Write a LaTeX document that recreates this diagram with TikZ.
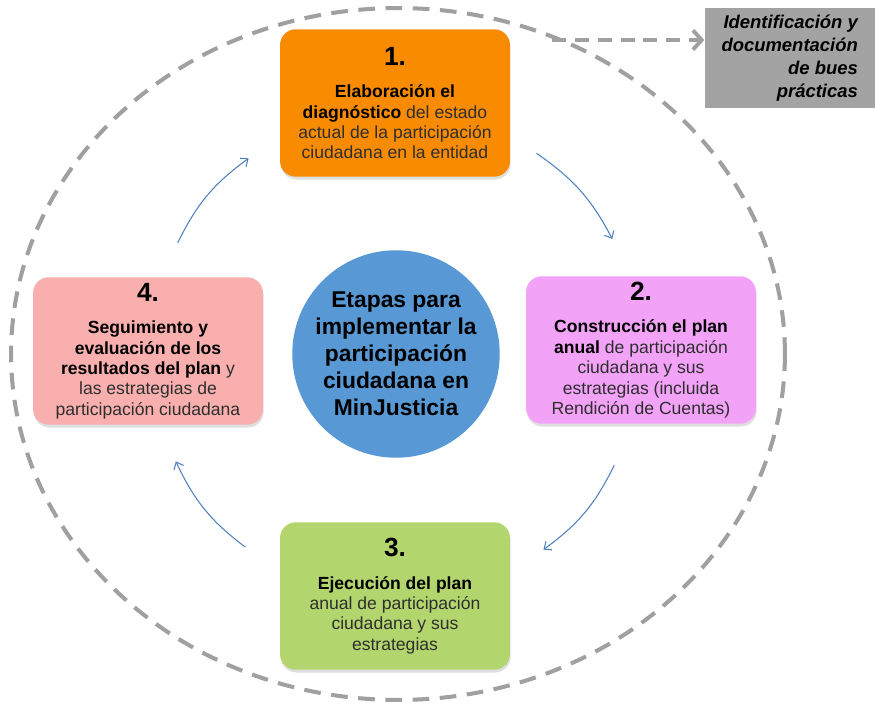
\documentclass[tikz,border=0pt]{standalone}
\usepackage{fontspec}
\setmainfont{Liberation Sans}
\usepackage{xcolor}
\usetikzlibrary{arrows.meta,positioning,shadows,calc}
\definecolor{diagfill}{RGB}{249,139,0}
\definecolor{planfill}{RGB}{242,162,247}
\definecolor{execfill}{RGB}{179,213,110}
\definecolor{segfill}{RGB}{248,175,174}
\definecolor{hubfill}{RGB}{88,152,212}
\definecolor{notefill}{RGB}{163,163,163}
\definecolor{ringgray}{RGB}{160,160,160}
\definecolor{cycblue}{RGB}{79,129,189}
\newcommand{\bld}[1]{\textbf{\color{black}#1}}
\newcommand{\stagenum}[1]{{\fontsize{15}{17}\selectfont\bfseries\color{black}#1}\\[7pt]}
\tikzset{
  stage/.style={rounded corners=9pt, align=center, minimum width=4.6cm, minimum height=2.95cm, inner sep=3pt,
    text=black!82, font=\fontsize{10}{11.6}\selectfont,
    drop shadow={shadow xshift=0.4pt, shadow yshift=-1.6pt, opacity=0.25}},
  diagbox/.style={stage, fill=diagfill},
  planbox/.style={stage, fill=planfill},
  execbox/.style={stage, fill=execfill},
  segbox/.style={stage, fill=segfill},
  hubnode/.style={circle, fill=hubfill, minimum size=4.15cm, align=center, inner sep=0pt,
    font=\bfseries\fontsize{13}{15.3}\selectfont},
  note/.style={fill=notefill, minimum width=3.4cm, minimum height=2cm, align=right, inner sep=3pt,
    font=\bfseries\itshape\fontsize{10.5}{13.2}\selectfont},
  ring/.style={draw=ringgray, line width=2.3pt, dash pattern=on 9.5pt off 6pt},
  cyc/.style={-{Straight Barb[length=3.5pt, width=6pt]}, cycblue, line width=0.6pt},
  notearrow/.style={-{Straight Barb[length=5pt, width=11pt]}, ringgray, line width=2.2pt, dash pattern=on 8pt off 5pt}
}

\begin{document}
\begin{tikzpicture}[x=0.02cm, y=0.02cm]
    \useasboundingbox (0,0) rectangle (875,-705);

    % Outer cycle
    \draw[ring] (398,-354) ellipse [x radius=7.74cm, y radius=6.92cm];

    % Nodes
    \node[hubnode] (hub) at (396,-354) {Etapas para\\ implementar la\\ participación\\ ciudadana en\\ MinJusticia};
    \node[diagbox] (diag) at (395,-103) {\stagenum{1.}\bld{Elaboración el}\\ \bld{diagnóstico} del estado\\ actual de la participación\\ ciudadana en la entidad};
    \node[planbox] (plan) at (641,-350) {\stagenum{2.}\bld{Construcción el plan}\\ \bld{anual} de participación\\ ciudadana y sus\\ estrategias (incluida\\ Rendición de Cuentas)};
    \node[execbox] (exec) at (395,-596) {\stagenum{3.}\bld{Ejecución del plan}\\ anual de participación\\ ciudadana y sus\\ estrategias};
    \node[segbox] (seg) at (148,-351) {\stagenum{4.}\bld{Seguimiento y}\\ \bld{evaluación de los}\\ \bld{resultados del plan} y\\ las estrategias de\\ participación ciudadana};
    \node[note, anchor=north east] (practicas) at (875,-8) {Identificación y\\ documentación\\ de bues\\ prácticas};

    % Arrow ends
    \coordinate (c1a) at ($(hub)+(55:4.9cm)$);
    \coordinate (c1b) at ($(hub)+(28:4.9cm)$);
    \coordinate (c2a) at ($(hub)+(-27:4.9cm)$);
    \coordinate (c2b) at ($(hub)+(-53:4.9cm)$);
    \coordinate (c3a) at ($(hub)+(-128:4.9cm)$);
    \coordinate (c3b) at ($(hub)+(-154:4.9cm)$);
    \coordinate (c4a) at ($(hub)+(153:4.9cm)$);
    \coordinate (c4b) at ($(hub)+(127:4.9cm)$);
    \coordinate (tap) at (552,-40);

    % Arrows
    \draw[cyc] (c1a) to[bend left=14] (c1b);
    \draw[cyc] (c2a) to[bend left=14] (c2b);
    \draw[cyc] (c3a) to[bend left=14] (c3b);
    \draw[cyc] (c4a) to[bend left=14] (c4b);
    \draw[notearrow] (tap) -- (tap -| practicas.west);
\end{tikzpicture}
\end{document}
